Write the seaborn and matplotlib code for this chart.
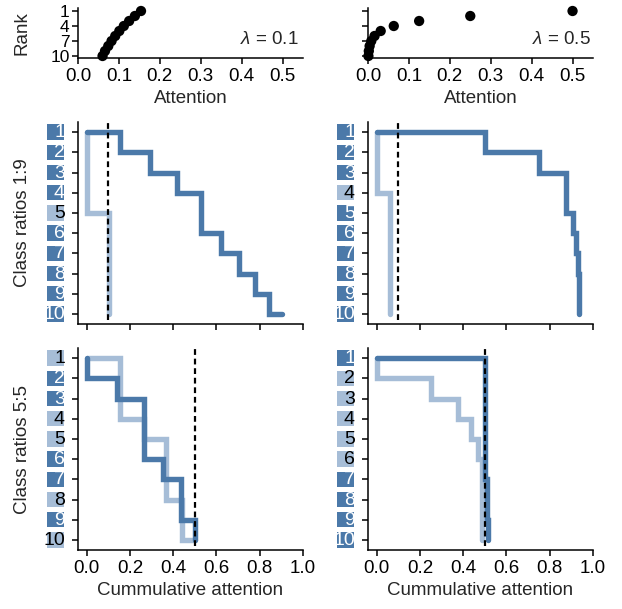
import numpy as np
import pandas as pd
import matplotlib
matplotlib.use('Agg')
import matplotlib.pyplot as plt
import matplotlib.transforms as mtransforms
from matplotlib.patches import Rectangle
import seaborn as sns

# ---- data ----
ranks = [1, 2, 3, 4, 5, 6, 7, 8, 9, 10]
attention_lam01 = [0.154, 0.139, 0.125, 0.112, 0.101, 0.091, 0.082, 0.074, 0.066, 0.060]
attention_lam05 = [0.500, 0.250, 0.125, 0.063, 0.031, 0.016, 0.008, 0.004, 0.002, 0.001]
lambdas = ['0.1', '0.5']

# class of the item at each rank: D = dark (majority / first class), L = light
classes_19_lam01 = list('DDDDLDDDDD')
classes_19_lam05 = list('DDDLDDDDDD')
classes_55_lam01 = list('LDDLLDDLDL')
classes_55_lam05 = list('DLLLLLDDDD')
class_ratio_19 = 0.1
class_ratio_55 = 0.5
row_labels = ['Class ratios 1:9', 'Class ratios 5:5']
x_ticks_top = [0.0, 0.1, 0.2, 0.3, 0.4, 0.5]
x_ticks_cum = [0.0, 0.2, 0.4, 0.6, 0.8, 1.0]

DARK = '#4b79a9'
LIGHT = '#a6bdd7'

sns.set_style('ticks')
plt.rcParams['font.family'] = ['Liberation Sans', 'DejaVu Sans']
plt.rcParams['mathtext.fontset'] = 'custom'
plt.rcParams['mathtext.it'] = 'Liberation Sans:italic'
plt.rcParams['mathtext.rm'] = 'Liberation Sans'
plt.rcParams['axes.linewidth'] = 1.1
plt.rcParams['xtick.major.width'] = 1.1
plt.rcParams['ytick.major.width'] = 1.1
plt.rcParams['xtick.major.size'] = 4
plt.rcParams['ytick.major.size'] = 4
plt.rcParams['xtick.color'] = 'black'
plt.rcParams['ytick.color'] = 'black'
plt.rcParams['axes.edgecolor'] = 'black'
FS = 13.5


def step_path(attn, classes, which):
    """cumulative attention path of one class down the ranking"""
    xs, ys = [0.0], [1]
    cum = 0.0
    for r, a, c in zip(ranks, attn, classes):
        if c == which:
            xs += [cum, cum + a]
            ys += [r, r]
            cum += a
        else:
            xs.append(cum)
            ys.append(r)
    return pd.DataFrame({'cum': xs, 'rank': ys, 'order': range(len(xs))})


fig = plt.figure(figsize=(6.22, 6.09), dpi=100)
W, H = 622, 609
col_x = [(78, 303), (368, 593)]
row_y = [(8, 58), (122, 324), (348, 550)]


def make_ax(ci, ri):
    x0, x1 = col_x[ci]
    y0, y1 = row_y[ri]
    return fig.add_axes([x0 / W, 1 - y1 / H, (x1 - x0) / W, (y1 - y0) / H])


# ---- top row: attention per rank ----
for ci, (attn, lam) in enumerate(zip([attention_lam01, attention_lam05], lambdas)):
    ax = make_ax(ci, 0)
    df = pd.DataFrame({'attention': attn, 'rank': ranks})
    sns.scatterplot(data=df, x='attention', y='rank', color='black', s=55,
                    edgecolor='none', ax=ax, zorder=3, clip_on=False)
    ax.set_xlim(0, 0.55)
    ax.set_ylim(10.4, 0.4)
    ax.set_yticks([1, 4, 7, 10])
    ax.set_xticks(x_ticks_top)
    ax.set_xticklabels([f'{t:.1f}' for t in x_ticks_top], fontsize=FS)
    if ci == 0:
        ax.set_yticklabels(['1', '4', '7', '10'], fontsize=12.5)
        ax.set_ylabel('Rank', fontsize=FS)
        ax.yaxis.set_label_coords(-0.21, 0.5)
    else:
        ax.set_yticklabels([])
        ax.set_ylabel('')
    ax.tick_params(axis='y', pad=2)
    ax.set_xlabel('Attention', fontsize=FS, labelpad=3)
    ax.text(0.98 if ci == 0 else 0.99, 0.38, r'$\lambda$ = ' + lam, transform=ax.transAxes,
            ha='right', va='center', fontsize=FS)
    sns.despine(ax=ax)

# ---- middle and bottom rows: cumulative attention steps ----
panels = [
    (1, 0, attention_lam01, classes_19_lam01, class_ratio_19),
    (1, 1, attention_lam05, classes_19_lam05, class_ratio_19),
    (2, 0, attention_lam01, classes_55_lam01, class_ratio_55),
    (2, 1, attention_lam05, classes_55_lam05, class_ratio_55),
]
for ri, ci, attn, classes, ratio in panels:
    ax = make_ax(ci, ri)
    for which, col in [('L', LIGHT), ('D', DARK)]:
        path = step_path(attn, classes, which)
        sns.lineplot(data=path, x='cum', y='rank', sort=False, estimator=None,
                     color=col, lw=3.9, ax=ax, solid_joinstyle='miter')
    ax.axvline(ratio, ymin=0.02, ymax=1, color='black', lw=1.6,
               ls=(0, (2.6, 1.7)), zorder=5)
    ax.set_xlim(-0.04, 1.0)
    ax.set_ylim(10.5, 0.5)
    ax.set_yticks(ranks)
    ax.set_yticklabels([])
    ax.set_xticks(x_ticks_cum)
    if ri == 2:
        ax.set_xticklabels([f'{t:.1f}' for t in x_ticks_cum], fontsize=FS)
        ax.set_xlabel('Cummulative attention', fontsize=FS, labelpad=3)
    else:
        ax.set_xticklabels([])
        ax.set_xlabel('')
    if ci == 0:
        ax.set_ylabel(row_labels[ri - 1], fontsize=FS)
        ax.yaxis.set_label_coords(-0.21, 0.5)
    else:
        ax.set_ylabel('')
    # coloured rank boxes in place of tick labels
    trans = mtransforms.blended_transform_factory(ax.transAxes, ax.transData)
    for r, c in zip(ranks, classes):
        face = DARK if c == 'D' else LIGHT
        ax.add_patch(Rectangle((-0.138, r - 0.38), 0.076, 0.76, transform=trans,
                               facecolor=face, edgecolor='none', clip_on=False))
        ax.text(-0.058, r + 0.03, str(r), transform=trans, ha='right', va='center',
                fontsize=14, color='white' if c == 'D' else 'black', clip_on=False)
    sns.despine(ax=ax)

fig.savefig('out.png', dpi=100)
